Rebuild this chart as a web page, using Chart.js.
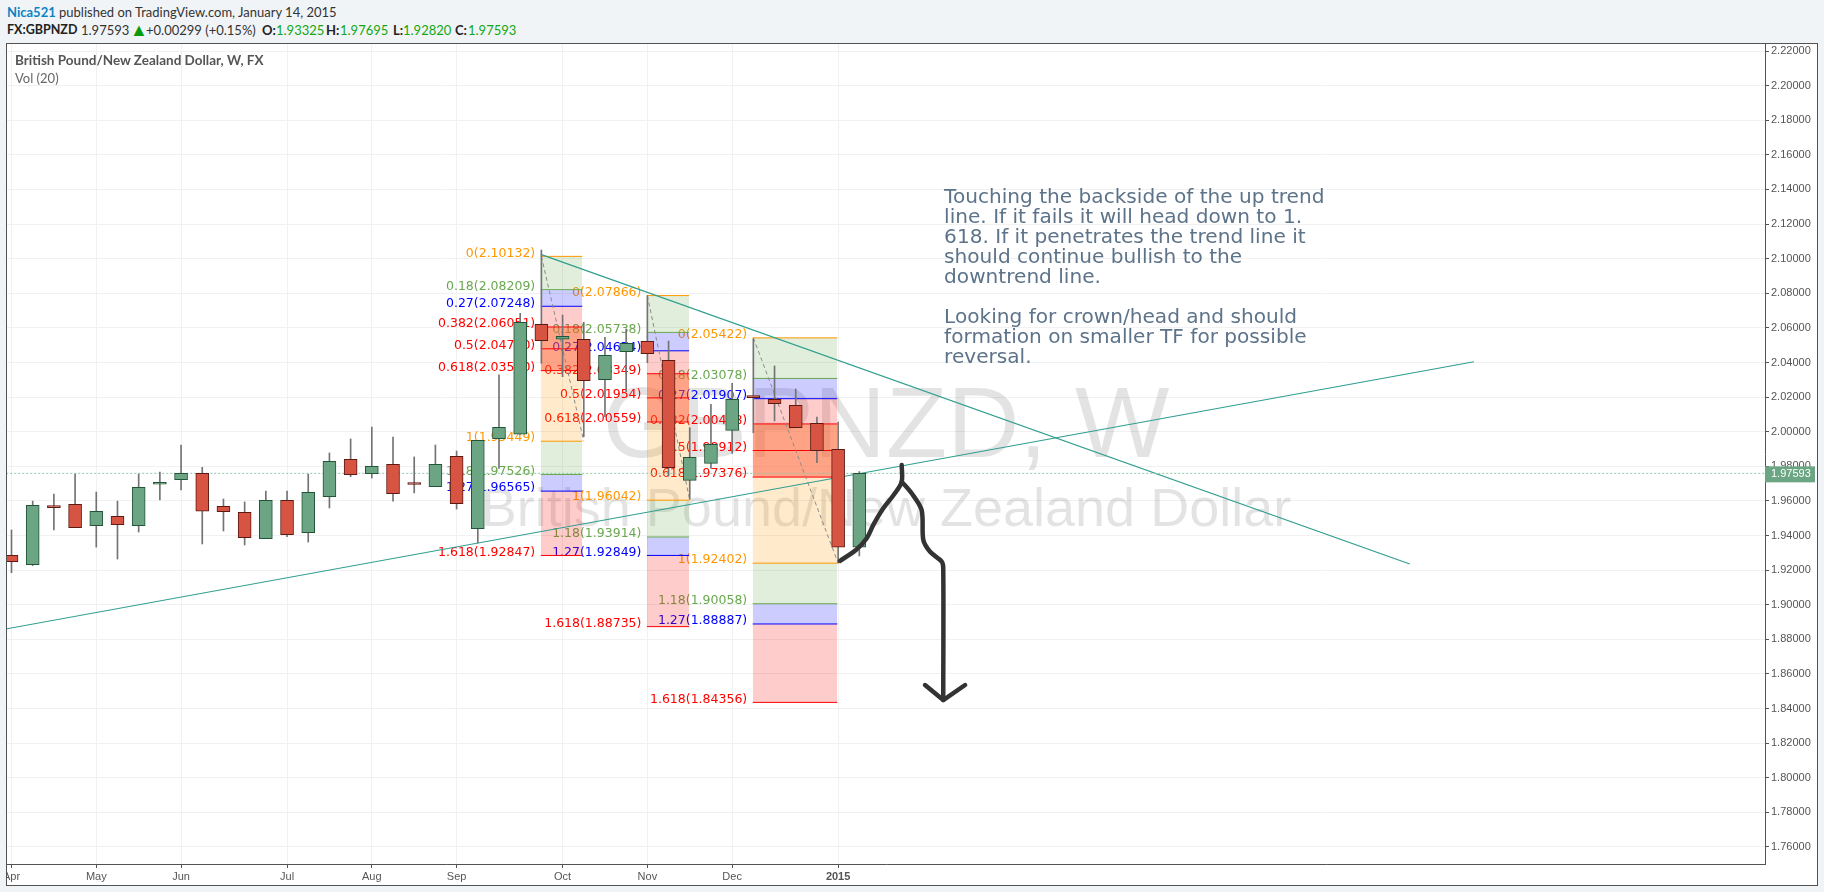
<!DOCTYPE html>
<html lang="en">
<head>
<meta charset="UTF-8">
<title>GBPNZD</title>
<script src="https://cdn.jsdelivr.net/npm/chart.js"></script>
<style>
    html, body { margin: 0; padding: 0; background: #f1f4f7; overflow: hidden; }
    body { width: 1824px; height: 892px; position: relative; font-family: Lato, sans-serif; font-size: 13px; color: #333; }
    .t { position: absolute; white-space: nowrap; line-height: 18px; }
    .b { font-weight: bold; }
    .g { color: #13a813; }
    #frame { position: absolute; left: 6px; top: 43px; width: 1810px; height: 841px; border: 1px solid #535353; background: #fff; }
    #chart { position: absolute; left: 0; top: 0; }
</style>
</head>
<body>
    <div class="t" style="left:7px;top:3px"><span class="b" style="color:#0b84c4">Nica521</span> published on TradingView.com, January 14, 2015</div>
    <div class="t b" style="left:7px;top:21px;color:#222;font-size:12.5px">FX:GBPNZD</div>
    <div class="t" style="left:81px;top:21px">1.97593</div>
    <div class="t" style="left:130px;top:20px;color:#0a9a0a;font-size:18px">&#9650;</div>
    <div class="t" style="left:146px;top:21px">+0.00299 (+0.15%)</div>
    <div class="t b" style="left:262px;top:21px;color:#222">O:</div><div class="t g" style="left:276px;top:21px">1.93325</div>
    <div class="t b" style="left:326px;top:21px;color:#222">H:</div><div class="t g" style="left:340px;top:21px">1.97695</div>
    <div class="t b" style="left:393px;top:21px;color:#222">L:</div><div class="t g" style="left:403px;top:21px">1.92820</div>
    <div class="t b" style="left:455px;top:21px;color:#222">C:</div><div class="t g" style="left:468px;top:21px">1.97593</div>
    <div id="frame"><canvas id="chart" width="1810" height="841"></canvas></div>
    <div class="t b" style="left:15px;top:51px;color:#555;font-size:13.5px">British Pound/New Zealand Dollar, W, FX</div>
    <div class="t" style="left:15px;top:69px;color:#666">Vol (20)</div>

<script>
// weekly candles, x = week number
const opens  = [1.9285,1.9231,1.9568,1.9580,1.9457,1.9511,1.9457,1.9696,1.9723,1.9759,1.9569,1.9534,1.9382,1.9603,1.9416,1.9624,1.9840,1.9757,1.9811,1.9698,1.9682,1.9857,1.9439,1.9960,1.9985,2.0621,2.0534,2.0534,2.0300,2.0462,2.0522,2.0413,1.9719,1.9817,2.0008,2.0203,2.0187,2.0153,2.0048,1.9898,1.93325];
const highs  = [1.9432,1.9599,1.9640,1.9755,1.9651,1.9599,1.9755,1.9767,1.9923,1.9794,1.9611,1.9594,1.9657,1.9657,1.9755,1.9877,1.9958,2.0027,1.9969,1.9854,1.9923,1.9888,1.9950,2.0328,2.0684,2.1050,2.0674,2.0632,2.0545,2.0592,2.0786,2.0524,2.0023,2.0158,2.0280,2.0537,2.0380,2.0247,2.0085,2.0056,1.97695];
const lows   = [1.9185,1.9226,1.9432,1.9445,1.9333,1.9264,1.9420,1.9605,1.9663,1.9351,1.9426,1.9345,1.9382,1.9393,1.9362,1.9559,1.9740,1.9732,1.9599,1.9646,1.9682,1.9553,1.9357,1.9788,1.9985,2.0395,2.0318,1.9971,2.0087,2.0231,2.0399,1.9744,1.9609,1.9788,1.9875,1.9994,2.0062,2.0023,1.9821,1.9240,1.92820];
const closes = [1.9249,1.9574,1.9561,1.9445,1.9540,1.9463,1.9678,1.9701,1.9759,1.9540,1.9538,1.9388,1.9603,1.9405,1.9649,1.9829,1.9752,1.9800,1.9642,1.9695,1.9811,1.9584,1.9950,2.0025,2.0632,2.0526,2.0551,2.0295,2.0441,2.0511,2.0451,1.9792,1.9852,1.9927,2.0187,2.0197,2.0162,2.0023,1.9890,1.9332,1.97593];

const monthWeeks  = [0,4,8,13,17,21,26,30,34,39];
const monthLabels = ['Apr','May','Jun','Jul','Aug','Sep','Oct','Nov','Dec','2015'];
const priceTicks  = [2.22,2.20,2.18,2.16,2.14,2.12,2.10,2.08,2.06,2.04,2.02,2.00,1.98,1.96,1.94,1.92,1.90,1.88,1.86,1.84,1.82,1.80,1.78,1.76];
const lastPrice   = 1.97593;

// fib retracements
const fibRatios = [0,0.18,0.27,0.382,0.5,0.618,1,1.18,1.27,1.618];
const fibA = [2.10132,2.08209,2.07248,2.06051,2.04790,2.03530,1.99449,1.97526,1.96565,1.92847];
const fibB = [2.07866,2.05738,2.04674,2.03349,2.01954,2.00559,1.96042,1.93914,1.92849,1.88735];
const fibC = [2.05422,2.03078,2.01907,2.00448,1.98912,1.97376,1.92402,1.90058,1.88887,1.84356];
const fibSpans = [[24.97,26.93],[29.98,31.97],[34.97,38.96]];
const fibDiagonals = [[25,27],[30,32],[35,39]];
const fibLine = ['#ff9800','#6aa84f','#0000ff','#ff0000','#ff0000','#ff0000','#ff9800','#6aa84f','#0000ff','#ff0000'];
const fibFill = [null,'rgba(106,168,79,.2)','rgba(0,0,255,.2)','rgba(255,0,0,.2)','rgba(255,87,34,.55)','rgba(255,87,34,.55)','rgba(255,152,0,.2)','rgba(106,168,79,.2)','rgba(0,0,255,.2)','rgba(255,0,0,.2)'];

// drawn lines
const upTrend   = [{x:-0.26,y:1.8860},{x:69.0,y:2.0404}];
const downTrend = [{x:24.97,y:2.1025},{x:65.97,y:1.9235}];
const curveUp = [{x:39.09,y:1.9254},{x:39.84,y:1.9316},{x:40.35,y:1.9384},{x:40.66,y:1.9461},{x:41.13,y:1.9557},{x:41.68,y:1.9644},{x:42.0,y:1.9711},{x:42.0,y:1.9807}];
const curveDown = [{x:42.0,y:1.9711},{x:42.47,y:1.9644},{x:42.94,y:1.9547},{x:43.02,y:1.9374},{x:43.34,y:1.9306},{x:43.89,y:1.9249},{x:43.96,y:1.9211},{x:43.96,y:1.8449}];
const arrowHead = [{x:43.10,y:1.8536},{x:43.96,y:1.8449},{x:44.99,y:1.8536}];

const noteLines = ['Touching the backside of the up trend','line. If it fails it will head down to 1.','618. If it penetrates the trend line it','should continue bullish to the','downtrend line.','','Looking for crown/head and should','formation on smaller TF for possible','reversal.'];

const datasets = [];

// zones and level lines
[fibA, fibB, fibC].forEach((levels, b) => {
    const [x1, x2] = fibSpans[b];
    levels.forEach((lvl, k) => {
        datasets.push({
            type: 'line', order: 10, pointRadius: 0, borderWidth: 1,
            borderColor: fibLine[k],
            backgroundColor: fibFill[k] || 'transparent',
            fill: k ? { value: levels[k - 1] } : false,
            data: [{ x: x1, y: lvl }, { x: x2, y: lvl }]
        });
    });
    const [d1, d2] = fibDiagonals[b];
    datasets.push({
        type: 'line', order: 8, pointRadius: 0, borderWidth: 1, borderColor: '#8a8a8a', borderDash: [4, 3], fill: false,
        data: [{ x: d1, y: levels[0] }, { x: d2, y: levels[6] }]
    });
});

[upTrend, downTrend].forEach(t => datasets.push({
    type: 'line', order: 7, pointRadius: 0, borderWidth: 1.2, borderColor: '#2f9e8f', fill: false, data: t
}));

datasets.push({
    type: 'line', order: 6, pointRadius: 0, borderWidth: 1, borderColor: '#8fc4a8', borderDash: [2, 2], fill: false,
    data: [{ x: -1, y: lastPrice }, { x: 83, y: lastPrice }]
});

// wicks
datasets.push({
    type: 'bar', order: 5, grouped: false, barThickness: 1, backgroundColor: '#737375',
    data: highs.map((h, i) => ({ x: i, y: [lows[i], h] }))
});
// bodies
datasets.push({
    type: 'bar', order: 4, grouped: false, barThickness: 13, borderWidth: 1, borderSkipped: false, minBarLength: 2,
    backgroundColor: opens.map((o, i) => closes[i] >= o ? '#6ba583' : '#d75442'),
    borderColor: opens.map((o, i) => closes[i] >= o ? '#225437' : '#5b1a13'),
    data: opens.map((o, i) => ({ x: i, y: [o, closes[i]] }))
});

[curveUp, curveDown, arrowHead].forEach((c, n) => datasets.push({
    type: 'line', order: 1, pointRadius: 0, borderWidth: 4.5, borderColor: '#333', fill: false,
    tension: n < 2 ? 0.3 : 0, borderCapStyle: 'round', borderJoinStyle: 'round', data: c
}));

const drawings = {
    id: 'drawings',
    beforeDatasetsDraw(chart) {
        const { ctx, scales: { x, y }, chartArea: a } = chart;
        ctx.save();
        ctx.beginPath();
        ctx.rect(a.left, a.top, a.right - a.left, a.bottom - a.top);
        ctx.clip();

        // watermark
        const mid = (a.left + a.right) / 2;
        ctx.fillStyle = 'rgba(0,0,0,.11)';
        ctx.textAlign = 'center';
        ctx.textBaseline = 'alphabetic';
        ctx.font = '100px "Liberation Sans"';
        ctx.fillText('GBPNZD, W', mid, 413);
        ctx.font = '54px "Liberation Sans"';
        ctx.fillText('British Pound/New Zealand Dollar', mid, 482);

        // fib labels go under the zones
        ctx.font = '12.5px "DejaVu Sans"';
        ctx.textAlign = 'right';
        ctx.textBaseline = 'middle';
        [fibA, fibB, fibC].forEach((levels, b) => {
            const px = x.getPixelForValue(fibSpans[b][0]) - 5.5;
            levels.forEach((lvl, k) => {
                ctx.fillStyle = fibLine[k];
                ctx.fillText(fibRatios[k] + '(' + lvl.toFixed(5) + ')', px, y.getPixelForValue(lvl) - 3);
            });
        });

        // comment
        ctx.font = '20.1px "DejaVu Sans"';
        ctx.textAlign = 'left';
        ctx.fillStyle = '#5d7389';
        noteLines.forEach((line, i) => {
            ctx.fillText(line, x.getPixelForValue(44), y.getPixelForValue(2.1350) + i * 20);
        });
        ctx.restore();
    },
    afterDraw(chart) {
        const { ctx, scales: { y }, chartArea: a } = chart;
        const py = y.getPixelForValue(lastPrice);
        ctx.save();
        ctx.fillStyle = '#6ba583';
        ctx.fillRect(a.right, py - 7, 50, 16);
        ctx.fillStyle = '#fff';
        ctx.font = '11px "Liberation Sans"';
        ctx.textAlign = 'left';
        ctx.textBaseline = 'middle';
        ctx.fillText(lastPrice.toFixed(5), a.right + 6, py + 1);
        ctx.restore();
    }
};

const noPadding = s => { s.paddingLeft = s.paddingRight = s.paddingTop = s.paddingBottom = 0; };

new Chart(document.getElementById('chart').getContext('2d'), {
    type: 'bar',
    data: { datasets },
    plugins: [drawings],
    options: {
        responsive: false,
        animation: false,
        events: [],
        layout: { autoPadding: false, padding: 0 },
        plugins: { legend: { display: false }, tooltip: { enabled: false } },
        scales: {
            x: {
                type: 'linear', offset: false,
                min: -0.2123, max: 82.73,
                afterBuildTicks: s => { s.ticks = monthWeeks.map(v => ({ value: v })); },
                afterFit: s => { s.height = 21; noPadding(s); },
                grid: { offset: false, color: '#f1f1f1', tickColor: '#535353', tickLength: 4 },
                border: { color: '#535353' },
                ticks: {
                    autoSkip: false, maxRotation: 0, padding: 2, color: '#555',
                    font: c => ({ family: 'Liberation Sans', size: 11, weight: c.tick && c.tick.value === 39 ? 'bold' : 'normal' }),
                    callback: v => monthLabels[monthWeeks.indexOf(v)]
                }
            },
            y: {
                type: 'linear', position: 'right', beginAtZero: false,
                min: 1.75016, max: 2.22405,
                afterBuildTicks: s => { s.ticks = priceTicks.map(v => ({ value: v })); },
                afterFit: s => { s.width = 52; noPadding(s); },
                grid: { color: '#f1f1f1', tickColor: '#535353', tickLength: 4 },
                border: { color: '#535353' },
                ticks: {
                    autoSkip: false, padding: 2, color: '#555',
                    font: { family: 'Liberation Sans', size: 11 },
                    callback: v => v.toFixed(5)
                }
            }
        }
    }
});
</script>
</body>
</html>
